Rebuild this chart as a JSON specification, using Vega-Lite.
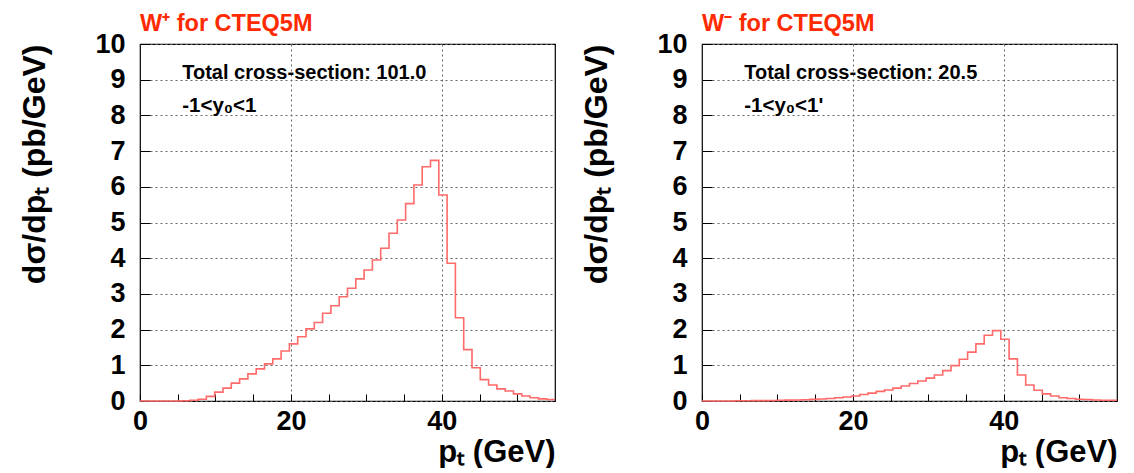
{
  "$schema": "https://vega.github.io/schema/vega-lite/v6.json",
  "padding": {"left": 18, "top": 10, "right": 0, "bottom": 0},
  "spacing": 147,
  "bounds": "flush",
  "config": {
    "view": {"stroke": "#000", "strokeWidth": 1.2},
    "font": "Liberation Sans",
    "axis": {
      "labelFont": "Liberation Sans", "labelFontWeight": "bold", "labelFontSize": 27, "labelColor": "#000",
      "titleFont": "Liberation Sans", "titleFontWeight": "bold", "titleFontSize": 32, "titleColor": "#000",
      "domain": false, "grid": true, "gridColor": "#666", "gridDash": [2, 3], "gridWidth": 1,
      "tickColor": "#000", "labelFlush": false
    },
    "axisX": {"titleFontSize": 31, "titleAnchor": "end", "titlePadding": 3, "tickSize": -7, "labelPadding": 14},
    "axisY": {"titleAnchor": "end", "titlePadding": 43, "tickSize": -10, "labelPadding": 25}
  },
  "datasets": {
    "hist": [
      {"p": "plus", "x": 0, "y": 0}, {"p": "plus", "x": 1.1, "y": 0}, {"p": "plus", "x": 2.2, "y": 0}, {"p": "plus", "x": 3.3, "y": 0}, {"p": "plus", "x": 4.4, "y": 0},
      {"p": "plus", "x": 5.5, "y": 0.005}, {"p": "plus", "x": 6.6, "y": 0.02}, {"p": "plus", "x": 7.7, "y": 0.05}, {"p": "plus", "x": 8.8, "y": 0.13}, {"p": "plus", "x": 9.9, "y": 0.25},
      {"p": "plus", "x": 11, "y": 0.36}, {"p": "plus", "x": 12.1, "y": 0.5}, {"p": "plus", "x": 13.2, "y": 0.62}, {"p": "plus", "x": 14.3, "y": 0.76}, {"p": "plus", "x": 15.4, "y": 0.9},
      {"p": "plus", "x": 16.5, "y": 1.04}, {"p": "plus", "x": 17.6, "y": 1.18}, {"p": "plus", "x": 18.7, "y": 1.4}, {"p": "plus", "x": 19.8, "y": 1.6}, {"p": "plus", "x": 20.9, "y": 1.8},
      {"p": "plus", "x": 22, "y": 2.02}, {"p": "plus", "x": 23.1, "y": 2.2}, {"p": "plus", "x": 24.2, "y": 2.46}, {"p": "plus", "x": 25.3, "y": 2.67}, {"p": "plus", "x": 26.4, "y": 2.92},
      {"p": "plus", "x": 27.5, "y": 3.16}, {"p": "plus", "x": 28.6, "y": 3.42}, {"p": "plus", "x": 29.7, "y": 3.67}, {"p": "plus", "x": 30.8, "y": 3.95}, {"p": "plus", "x": 31.9, "y": 4.28},
      {"p": "plus", "x": 33, "y": 4.7}, {"p": "plus", "x": 34.1, "y": 5.07}, {"p": "plus", "x": 35.2, "y": 5.53}, {"p": "plus", "x": 36.3, "y": 6.05}, {"p": "plus", "x": 37.4, "y": 6.56},
      {"p": "plus", "x": 38.5, "y": 6.74}, {"p": "plus", "x": 39.6, "y": 5.77}, {"p": "plus", "x": 40.7, "y": 3.86}, {"p": "plus", "x": 41.8, "y": 2.33}, {"p": "plus", "x": 42.9, "y": 1.44},
      {"p": "plus", "x": 44, "y": 0.93}, {"p": "plus", "x": 45.1, "y": 0.6}, {"p": "plus", "x": 46.2, "y": 0.45}, {"p": "plus", "x": 47.3, "y": 0.34}, {"p": "plus", "x": 48.4, "y": 0.28},
      {"p": "plus", "x": 49.5, "y": 0.2}, {"p": "plus", "x": 50.6, "y": 0.14}, {"p": "plus", "x": 51.7, "y": 0.09}, {"p": "plus", "x": 52.8, "y": 0.06}, {"p": "plus", "x": 53.9, "y": 0.04},
      {"p": "plus", "x": 55, "y": 0.04},
      {"p": "minus", "x": 0, "y": 0}, {"p": "minus", "x": 1.1, "y": 0}, {"p": "minus", "x": 2.2, "y": 0}, {"p": "minus", "x": 3.3, "y": 0}, {"p": "minus", "x": 4.4, "y": 0.005},
      {"p": "minus", "x": 5.5, "y": 0.005}, {"p": "minus", "x": 6.6, "y": 0.01}, {"p": "minus", "x": 7.7, "y": 0.01}, {"p": "minus", "x": 8.8, "y": 0.015}, {"p": "minus", "x": 9.9, "y": 0.02},
      {"p": "minus", "x": 11, "y": 0.025}, {"p": "minus", "x": 12.1, "y": 0.03}, {"p": "minus", "x": 13.2, "y": 0.035}, {"p": "minus", "x": 14.3, "y": 0.045}, {"p": "minus", "x": 15.4, "y": 0.055},
      {"p": "minus", "x": 16.5, "y": 0.07}, {"p": "minus", "x": 17.6, "y": 0.09}, {"p": "minus", "x": 18.7, "y": 0.11}, {"p": "minus", "x": 19.8, "y": 0.14}, {"p": "minus", "x": 20.9, "y": 0.18},
      {"p": "minus", "x": 22, "y": 0.22}, {"p": "minus", "x": 23.1, "y": 0.27}, {"p": "minus", "x": 24.2, "y": 0.31}, {"p": "minus", "x": 25.3, "y": 0.36}, {"p": "minus", "x": 26.4, "y": 0.42},
      {"p": "minus", "x": 27.5, "y": 0.49}, {"p": "minus", "x": 28.6, "y": 0.56}, {"p": "minus", "x": 29.7, "y": 0.64}, {"p": "minus", "x": 30.8, "y": 0.73}, {"p": "minus", "x": 31.9, "y": 0.85},
      {"p": "minus", "x": 33, "y": 0.99}, {"p": "minus", "x": 34.1, "y": 1.17}, {"p": "minus", "x": 35.2, "y": 1.37}, {"p": "minus", "x": 36.3, "y": 1.6}, {"p": "minus", "x": 37.4, "y": 1.84},
      {"p": "minus", "x": 38.5, "y": 1.97}, {"p": "minus", "x": 39.6, "y": 1.73}, {"p": "minus", "x": 40.7, "y": 1.18}, {"p": "minus", "x": 41.8, "y": 0.73}, {"p": "minus", "x": 42.9, "y": 0.45},
      {"p": "minus", "x": 44, "y": 0.3}, {"p": "minus", "x": 45.1, "y": 0.2}, {"p": "minus", "x": 46.2, "y": 0.14}, {"p": "minus", "x": 47.3, "y": 0.09}, {"p": "minus", "x": 48.4, "y": 0.07},
      {"p": "minus", "x": 49.5, "y": 0.05}, {"p": "minus", "x": 50.6, "y": 0.04}, {"p": "minus", "x": 51.7, "y": 0.03}, {"p": "minus", "x": 52.8, "y": 0.02}, {"p": "minus", "x": 53.9, "y": 0.02},
      {"p": "minus", "x": 55, "y": 0.02}
    ],
    "notes": [
      {"p": "plus", "line": 1, "t": "Total cross-section: 101.0"},
      {"p": "plus", "line": 2, "t": "-1<y₀<1"},
      {"p": "minus", "line": 1, "t": "Total cross-section: 20.5"},
      {"p": "minus", "line": 2, "t": "-1<y₀<1'"}
    ]
  },
  "hconcat": [
    {
      "width": 415, "height": 357,
      "title": {"text": "W⁺ for CTEQ5M", "anchor": "start", "frame": "group", "color": "#ff2a00", "font": "Liberation Sans", "fontSize": 23.5, "fontWeight": "bold", "offset": -5},
      "layer": [
        {"data": {"name": "hist"}, "transform": [{"filter": "datum.p === 'plus'"}],
          "mark": {"type": "line", "interpolate": "step-after", "color": "#ff6a6a", "strokeWidth": 1.6},
          "encoding": {
            "x": {"field": "x", "type": "quantitative", "scale": {"domain": [0, 55], "nice": false, "zero": false},
              "axis": {"title": "pₜ (GeV)", "values": [0, 5, 10, 15, 20, 25, 30, 35, 40, 45, 50], "labelExpr": "datum.value % 20 === 0 ? datum.label : ''",
                "gridOpacity": {"condition": {"test": "datum.value % 20 === 0 && datum.value > 0", "value": 1}, "value": 0}}},
            "y": {"field": "y", "type": "quantitative", "scale": {"domain": [0, 10], "nice": false},
              "axis": {"title": "dσ/dpₜ (pb/GeV)", "values": [0, 1, 2, 3, 4, 5, 6, 7, 8, 9, 10], "format": "d"}}
          }},
        {"data": {"name": "notes"}, "transform": [{"filter": "datum.p === 'plus' && datum.line === 1"}],
          "mark": {"type": "text", "align": "left", "baseline": "middle", "font": "Liberation Sans", "fontWeight": "bold", "fontSize": 20, "fill": "#000"},
          "encoding": {
            "x": {"datum": 5.6, "type": "quantitative", "axis": {"title": "pₜ (GeV)", "values": [0, 5, 10, 15, 20, 25, 30, 35, 40, 45, 50], "labelExpr": "datum.value % 20 === 0 ? datum.label : ''",
                "gridOpacity": {"condition": {"test": "datum.value % 20 === 0 && datum.value > 0", "value": 1}, "value": 0}}},
            "y": {"datum": 9.18, "type": "quantitative", "axis": {"title": "dσ/dpₜ (pb/GeV)", "values": [0, 1, 2, 3, 4, 5, 6, 7, 8, 9, 10], "format": "d"}},
            "text": {"field": "t", "type": "nominal"}}},
        {"data": {"name": "notes"}, "transform": [{"filter": "datum.p === 'plus' && datum.line === 2"}],
          "mark": {"type": "text", "align": "left", "baseline": "middle", "font": "Liberation Sans", "fontWeight": "bold", "fontSize": 20.5, "fill": "#000"},
          "encoding": {
            "x": {"datum": 5.6, "type": "quantitative", "axis": {"title": "pₜ (GeV)", "values": [0, 5, 10, 15, 20, 25, 30, 35, 40, 45, 50], "labelExpr": "datum.value % 20 === 0 ? datum.label : ''",
                "gridOpacity": {"condition": {"test": "datum.value % 20 === 0 && datum.value > 0", "value": 1}, "value": 0}}},
            "y": {"datum": 8.25, "type": "quantitative", "axis": {"title": "dσ/dpₜ (pb/GeV)", "values": [0, 1, 2, 3, 4, 5, 6, 7, 8, 9, 10], "format": "d"}},
            "text": {"field": "t", "type": "nominal"}}}
      ]
    },
    {
      "width": 415, "height": 357,
      "title": {"text": "W⁻ for CTEQ5M", "anchor": "start", "frame": "group", "color": "#ff2a00", "font": "Liberation Sans", "fontSize": 23.5, "fontWeight": "bold", "offset": -5},
      "layer": [
        {"data": {"name": "hist"}, "transform": [{"filter": "datum.p === 'minus'"}],
          "mark": {"type": "line", "interpolate": "step-after", "color": "#ff6a6a", "strokeWidth": 1.6},
          "encoding": {
            "x": {"field": "x", "type": "quantitative", "scale": {"domain": [0, 55], "nice": false, "zero": false},
              "axis": {"title": "pₜ (GeV)", "values": [0, 5, 10, 15, 20, 25, 30, 35, 40, 45, 50], "labelExpr": "datum.value % 20 === 0 ? datum.label : ''",
                "gridOpacity": {"condition": {"test": "datum.value % 20 === 0 && datum.value > 0", "value": 1}, "value": 0}}},
            "y": {"field": "y", "type": "quantitative", "scale": {"domain": [0, 10], "nice": false},
              "axis": {"title": "dσ/dpₜ (pb/GeV)", "values": [0, 1, 2, 3, 4, 5, 6, 7, 8, 9, 10], "format": "d"}}
          }},
        {"data": {"name": "notes"}, "transform": [{"filter": "datum.p === 'minus' && datum.line === 1"}],
          "mark": {"type": "text", "align": "left", "baseline": "middle", "font": "Liberation Sans", "fontWeight": "bold", "fontSize": 20, "fill": "#000"},
          "encoding": {
            "x": {"datum": 5.6, "type": "quantitative", "axis": {"title": "pₜ (GeV)", "values": [0, 5, 10, 15, 20, 25, 30, 35, 40, 45, 50], "labelExpr": "datum.value % 20 === 0 ? datum.label : ''",
                "gridOpacity": {"condition": {"test": "datum.value % 20 === 0 && datum.value > 0", "value": 1}, "value": 0}}},
            "y": {"datum": 9.18, "type": "quantitative", "axis": {"title": "dσ/dpₜ (pb/GeV)", "values": [0, 1, 2, 3, 4, 5, 6, 7, 8, 9, 10], "format": "d"}},
            "text": {"field": "t", "type": "nominal"}}},
        {"data": {"name": "notes"}, "transform": [{"filter": "datum.p === 'minus' && datum.line === 2"}],
          "mark": {"type": "text", "align": "left", "baseline": "middle", "font": "Liberation Sans", "fontWeight": "bold", "fontSize": 20.5, "fill": "#000"},
          "encoding": {
            "x": {"datum": 5.6, "type": "quantitative", "axis": {"title": "pₜ (GeV)", "values": [0, 5, 10, 15, 20, 25, 30, 35, 40, 45, 50], "labelExpr": "datum.value % 20 === 0 ? datum.label : ''",
                "gridOpacity": {"condition": {"test": "datum.value % 20 === 0 && datum.value > 0", "value": 1}, "value": 0}}},
            "y": {"datum": 8.25, "type": "quantitative", "axis": {"title": "dσ/dpₜ (pb/GeV)", "values": [0, 1, 2, 3, 4, 5, 6, 7, 8, 9, 10], "format": "d"}},
            "text": {"field": "t", "type": "nominal"}}}
      ]
    }
  ]
}
